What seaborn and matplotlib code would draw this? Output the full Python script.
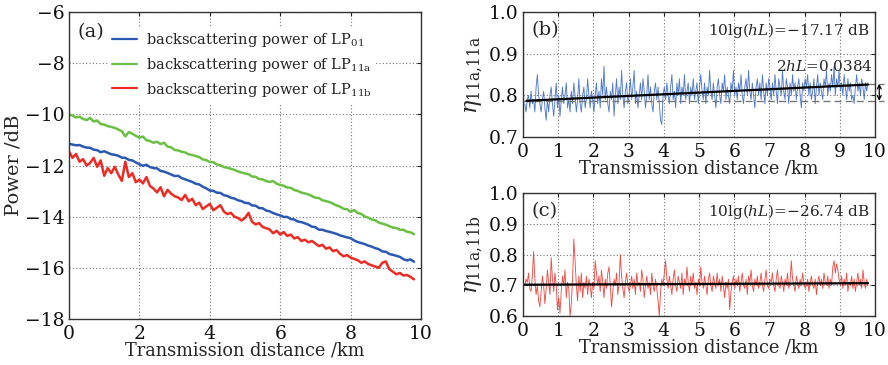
import numpy as np
import pandas as pd
import matplotlib
matplotlib.use("Agg")
import matplotlib.pyplot as plt
import seaborn as sns

# ---------------- data ----------------
# panel (a): backscattering power (dB) every 0.1 km from 0 to 9.8 km
power_lp01 = [
    -11.15, -11.18, -11.21, -11.20, -11.26, -11.30, -11.31, -11.38, -11.40, -11.48,
    -11.44, -11.50, -11.56, -11.58, -11.62, -11.69, -11.70, -11.78, -11.80, -11.88,
    -11.95, -12.01, -11.97, -12.06, -12.10, -12.11, -12.21, -12.24, -12.29, -12.35,
    -12.41, -12.40, -12.49, -12.54, -12.59, -12.64, -12.71, -12.74, -12.83, -12.89,
    -12.98, -12.99, -13.06, -13.07, -13.16, -13.19, -13.26, -13.29, -13.36, -13.39,
    -13.46, -13.47, -13.56, -13.57, -13.66, -13.67, -13.76, -13.79, -13.86, -13.91,
    -13.95, -14.01, -14.01, -14.09, -14.11, -14.19, -14.21, -14.26, -14.31, -14.39,
    -14.41, -14.51, -14.51, -14.56, -14.59, -14.63, -14.67, -14.73, -14.77, -14.81,
    -14.84, -14.93, -14.99, -15.03, -15.07, -15.13, -15.17, -15.23, -15.27, -15.36,
    -15.37, -15.46, -15.49, -15.53, -15.57, -15.66, -15.71, -15.67, -15.76]
power_lp11a = [
    -10.00, -10.05, -10.12, -10.09, -10.18, -10.22, -10.14, -10.28, -10.24, -10.38,
    -10.40, -10.46, -10.49, -10.53, -10.59, -10.66, -10.86, -10.69, -10.76, -10.84,
    -10.91, -10.87, -11.01, -11.04, -11.11, -11.07, -11.16, -11.11, -11.26, -11.29,
    -11.39, -11.41, -11.46, -11.49, -11.56, -11.59, -11.63, -11.67, -11.76, -11.79,
    -11.86, -11.87, -11.96, -11.99, -12.06, -12.09, -12.13, -12.17, -12.23, -12.27,
    -12.31, -12.34, -12.43, -12.44, -12.53, -12.54, -12.61, -12.64, -12.61, -12.71,
    -12.76, -12.79, -12.86, -12.87, -12.96, -12.99, -13.06, -13.09, -13.13, -13.19,
    -13.26, -13.27, -13.36, -13.39, -13.43, -13.49, -13.56, -13.61, -13.69, -13.71,
    -13.81, -13.74, -13.86, -13.89, -13.99, -14.04, -14.11, -14.14, -14.23, -14.27,
    -14.31, -14.37, -14.43, -14.44, -14.51, -14.51, -14.59, -14.61, -14.68]
power_lp11b = [
    -11.45, -11.70, -11.55, -11.85, -11.75, -12.00, -11.90, -11.70, -12.05, -11.80,
    -12.40, -12.10, -12.30, -12.05, -12.35, -12.60, -11.85, -12.45, -12.30, -12.65,
    -12.55, -12.70, -12.45, -12.80, -12.90, -13.05, -12.85, -13.20, -12.95, -13.10,
    -13.20, -13.25, -13.35, -13.15, -13.40, -13.30, -13.55, -13.45, -13.70, -13.60,
    -13.50, -13.75, -13.65, -13.55, -13.80, -13.90, -13.85, -14.00, -14.05, -14.15,
    -14.05, -13.85, -14.20, -14.30, -14.25, -14.40, -14.45, -14.50, -14.65, -14.55,
    -14.70, -14.60, -14.75, -14.70, -14.85, -14.80, -14.95, -14.90, -15.00, -14.95,
    -15.05, -15.15, -15.10, -15.25, -15.20, -15.35, -15.30, -15.45, -15.55, -15.50,
    -15.60, -15.65, -15.70, -15.80, -15.75, -15.85, -15.90, -15.95, -16.00, -15.80,
    -15.75, -16.05, -16.15, -16.25, -16.20, -16.30, -16.28, -16.35, -16.45]

# panel (b): eta_11a,11a samples from 0.05 to 9.8 km
eta_11a_11a = [
    0.78, 0.76, 0.79, 0.80, 0.77, 0.81, 0.78, 0.79, 0.76, 0.82, 0.85, 0.80, 0.78, 0.76,
    0.79, 0.81, 0.77, 0.74, 0.79, 0.76, 0.80, 0.82, 0.78, 0.75, 0.79, 0.83, 0.77, 0.80,
    0.75, 0.79, 0.82, 0.78, 0.80, 0.83, 0.77, 0.79, 0.76, 0.81, 0.78, 0.83, 0.80, 0.76,
    0.79, 0.84, 0.78, 0.76, 0.80, 0.82, 0.77, 0.79, 0.84, 0.80, 0.77, 0.81, 0.79, 0.76,
    0.80, 0.83, 0.78, 0.81, 0.77, 0.84, 0.80, 0.87, 0.79, 0.82, 0.78, 0.76, 0.81, 0.79,
    0.83, 0.75, 0.80, 0.84, 0.78, 0.82, 0.79, 0.86, 0.80, 0.77, 0.81, 0.83, 0.78, 0.80,
    0.84, 0.79, 0.82, 0.86, 0.78, 0.81, 0.77, 0.80, 0.83, 0.79, 0.84, 0.81, 0.77, 0.80,
    0.85, 0.79, 0.82, 0.78, 0.76, 0.81, 0.83, 0.79, 0.82, 0.78, 0.74, 0.73, 0.80, 0.82,
    0.79, 0.83, 0.80, 0.78, 0.82, 0.85, 0.79, 0.81, 0.77, 0.83, 0.80, 0.84, 0.78, 0.82,
    0.80, 0.85, 0.79, 0.81, 0.83, 0.78, 0.82, 0.80, 0.84, 0.79, 0.81, 0.83, 0.78, 0.82,
    0.85, 0.81, 0.79, 0.83, 0.78, 0.82, 0.80, 0.86, 0.81, 0.79, 0.83, 0.80, 0.77, 0.82,
    0.84, 0.80, 0.78, 0.83, 0.81, 0.85, 0.79, 0.82, 0.80, 0.78, 0.83, 0.81, 0.86, 0.80,
    0.82, 0.79, 0.83, 0.81, 0.85, 0.80, 0.78, 0.82, 0.84, 0.80, 0.86, 0.81, 0.79, 0.83,
    0.80, 0.77, 0.82, 0.84, 0.80, 0.83, 0.79, 0.85, 0.81, 0.78, 0.83, 0.80, 0.84, 0.82,
    0.79, 0.83, 0.80, 0.85, 0.81, 0.78, 0.84, 0.82, 0.80, 0.86, 0.81, 0.79, 0.84, 0.82,
    0.78, 0.83, 0.80, 0.85, 0.81, 0.83, 0.79, 0.82, 0.84, 0.80, 0.77, 0.83, 0.81, 0.84,
    0.82, 0.85, 0.80, 0.83, 0.79, 0.81, 0.84, 0.78, 0.82, 0.85, 0.80, 0.83, 0.81, 0.79,
    0.84, 0.82, 0.86, 0.80, 0.83, 0.81, 0.85, 0.82, 0.87, 0.80, 0.84, 0.82, 0.86, 0.81,
    0.83, 0.80, 0.85, 0.82, 0.79, 0.84, 0.81, 0.83, 0.79, 0.80, 0.78, 0.82, 0.85, 0.81,
    0.83, 0.80, 0.84, 0.82, 0.79, 0.83, 0.81, 0.83]
fit_b_x = [0.1, 9.8]
fit_b_y = [0.787, 0.826]
ref_b = 0.787           # dashed reference level
top_b = 0.828           # end of fitted line (arrow top)

# panel (c): eta_11a,11b samples from 0.05 to 9.8 km
eta_11a_11b = [
    0.70, 0.72, 0.71, 0.74, 0.69, 0.68, 0.73, 0.81, 0.72, 0.67, 0.70, 0.65, 0.63, 0.68,
    0.73, 0.70, 0.64, 0.69, 0.75, 0.71, 0.67, 0.79, 0.72, 0.68, 0.74, 0.70, 0.62, 0.66,
    0.61, 0.68, 0.73, 0.70, 0.75, 0.66, 0.71, 0.69, 0.60, 0.64, 0.72, 0.85, 0.78, 0.70,
    0.65, 0.73, 0.68, 0.74, 0.66, 0.71, 0.69, 0.73, 0.67, 0.72, 0.70, 0.66, 0.71, 0.69,
    0.78, 0.74, 0.70, 0.73, 0.68, 0.75, 0.71, 0.66, 0.72, 0.69, 0.74, 0.76, 0.70, 0.63,
    0.68, 0.72, 0.70, 0.74, 0.67, 0.71, 0.80, 0.73, 0.69, 0.66, 0.71, 0.74, 0.70, 0.68,
    0.70, 0.73, 0.69, 0.72, 0.67, 0.74, 0.70, 0.71, 0.68, 0.75, 0.72, 0.66, 0.70, 0.73,
    0.69, 0.71, 0.67, 0.74, 0.70, 0.68, 0.72, 0.69, 0.65, 0.60, 0.68, 0.72, 0.70, 0.74,
    0.78, 0.72, 0.69, 0.73, 0.70, 0.67, 0.72, 0.75, 0.70, 0.68, 0.73, 0.71, 0.69, 0.74,
    0.67, 0.72, 0.70, 0.76, 0.71, 0.68, 0.73, 0.70, 0.74, 0.69, 0.71, 0.67, 0.72, 0.70,
    0.76, 0.71, 0.69, 0.73, 0.70, 0.67, 0.72, 0.74, 0.70, 0.68, 0.73, 0.71, 0.69, 0.74,
    0.70, 0.72, 0.68, 0.73, 0.70, 0.66, 0.71, 0.69, 0.72, 0.62, 0.68, 0.71, 0.73, 0.69,
    0.72, 0.70, 0.73, 0.68, 0.71, 0.74, 0.70, 0.69, 0.72, 0.67, 0.73, 0.71, 0.75, 0.70,
    0.68, 0.72, 0.70, 0.73, 0.69, 0.71, 0.74, 0.70, 0.68, 0.72, 0.75, 0.70, 0.69, 0.72,
    0.71, 0.74, 0.70, 0.68, 0.72, 0.75, 0.70, 0.69, 0.73, 0.71, 0.68, 0.72, 0.70, 0.74,
    0.69, 0.71, 0.78, 0.72, 0.70, 0.68, 0.73, 0.71, 0.69, 0.72, 0.70, 0.74, 0.71, 0.69,
    0.70, 0.72, 0.68, 0.71, 0.73, 0.70, 0.69, 0.72, 0.67, 0.71, 0.73, 0.70, 0.72, 0.69,
    0.74, 0.71, 0.70, 0.73, 0.69, 0.72, 0.70, 0.76, 0.78, 0.74, 0.77, 0.75, 0.72, 0.70,
    0.73, 0.69, 0.72, 0.70, 0.74, 0.68, 0.71, 0.70, 0.73, 0.69, 0.72, 0.68, 0.71, 0.74,
    0.70, 0.72, 0.69, 0.75, 0.71, 0.69, 0.72, 0.70]
fit_c_x = [0.05, 9.8]
fit_c_y = [0.702, 0.707]

legend_labels = [r"backscattering power of LP$_{\mathregular{01}}$",
                 r"backscattering power of LP$_{\mathregular{11a}}$",
                 r"backscattering power of LP$_{\mathregular{11b}}$"]
text_b1 = r"10lg($hL$)=$-$17.17 dB"
text_b2 = r"2$hL$=0.0384"
text_c1 = r"10lg($hL$)=$-$26.74 dB"
ylabel_b = r"$\eta_{\mathregular{11a,\!11a}}$"
ylabel_c = r"$\eta_{\mathregular{11a,\!11b}}$"

# ---------------- style ----------------
sns.set_style("white")
plt.rcParams["font.family"] = ["DejaVu Serif"]
plt.rcParams["mathtext.fontset"] = "dejavuserif"
plt.rcParams["axes.unicode_minus"] = True

c_blue, c_green, c_red = "#2b58b2", "#6cbf45", "#ec2c24"

fig = plt.figure(figsize=(8.88, 3.65), dpi=100)
ax_a = fig.add_axes([0.0777, 0.126, 0.3964, 0.841])
ax_b = fig.add_axes([0.589, 0.6247, 0.3964, 0.342])
ax_c = fig.add_axes([0.589, 0.134, 0.3964, 0.337])

def style_axes(ax, size):
    for s in ax.spines.values():
        s.set_color("#333333")
        s.set_linewidth(1.0)
    ax.grid(True, linestyle=(0, (1, 2)), color="#777777", linewidth=0.8)
    ax.tick_params(direction="in", length=3, width=0.8, top=True, right=True,
                   labelsize=size, colors="#222222")
    ax.tick_params(axis="x", pad=4)
    ax.tick_params(axis="y", pad=3)
    for lab in ax.get_xticklabels() + ax.get_yticklabels():
        lab.set_color("#111111")

# ---- panel (a)
xa = np.round(np.arange(len(power_lp01)) * 0.1, 1)
df_a = pd.DataFrame({
    "x": np.concatenate([xa, xa, xa]),
    "y": power_lp01 + power_lp11a + power_lp11b,
    "mode": [legend_labels[0]] * len(xa) + [legend_labels[1]] * len(xa) + [legend_labels[2]] * len(xa),
})
sns.lineplot(data=df_a, x="x", y="y", hue="mode", ax=ax_a,
             palette=[c_blue, c_green, c_red], linewidth=1.8, legend=True)
ax_a.set_xlim(0, 10)
ax_a.set_ylim(-18, -6)
ax_a.set_xticks([0, 2, 4, 6, 8, 10])
ax_a.set_yticks([-18, -16, -14, -12, -10, -8, -6])
style_axes(ax_a, 13.5)
ax_a.set_xlabel("Transmission distance /km", fontsize=12.8, labelpad=-1)
ax_a.set_ylabel("Power /dB", fontsize=14, labelpad=2)
ax_a.text(0.025, 0.965, "(a)", transform=ax_a.transAxes, fontsize=14,
          ha="left", va="top")
leg = ax_a.legend(loc="upper left", bbox_to_anchor=(0.09, 0.975), frameon=True,
                  fontsize=10.5, handlelength=1.7, handletextpad=0.6,
                  labelspacing=0.45, borderpad=0.3, title=None)
leg.get_frame().set_facecolor("white")
leg.get_frame().set_edgecolor("none")
leg.get_frame().set_alpha(1.0)
for ln in leg.get_lines():
    ln.set_linewidth(1.6)

# ---- panel (b)
xb = np.linspace(0.05, 9.8, len(eta_11a_11a))
sns.lineplot(x=xb, y=eta_11a_11a, ax=ax_b, color="#3f6cc4", linewidth=0.65, alpha=0.9)
ax_b.plot([0, 10.25], [ref_b, ref_b], linestyle=(0, (5, 3)), color="#777777",
          linewidth=1.0, clip_on=False)
ax_b.plot([9.8, 10.25], [top_b, top_b], linestyle=(0, (5, 3)), color="#777777",
          linewidth=1.0, clip_on=False)
sns.lineplot(x=fit_b_x, y=fit_b_y, ax=ax_b, color="black", linewidth=1.6)
ax_b.annotate("", xy=(10.12, top_b), xytext=(10.12, ref_b),
              arrowprops=dict(arrowstyle="<->", color="black", lw=0.9,
                              shrinkA=0, shrinkB=0, mutation_scale=7),
              annotation_clip=False)
ax_b.set_xlim(0, 10)
ax_b.set_ylim(0.7, 1.0)
ax_b.set_xticks(range(0, 11))
ax_b.set_yticks([0.7, 0.8, 0.9, 1.0])
ax_b.set_yticklabels(["0.7", "0.8", "0.9", "1.0"])
style_axes(ax_b, 13.5)
ax_b.set_xlabel("Transmission distance /km", fontsize=12.8, labelpad=-1)
ax_b.set_ylabel(ylabel_b, fontsize=16, labelpad=3)
ax_b.text(0.025, 0.93, "(b)", transform=ax_b.transAxes, fontsize=14,
          ha="left", va="top")
ax_b.text(0.985, 0.93, text_b1, transform=ax_b.transAxes, fontsize=11,
          ha="right", va="top")
ax_b.text(9.95, 0.87, text_b2, fontsize=11, ha="right", va="center")

# ---- panel (c)
xc = np.linspace(0.05, 9.8, len(eta_11a_11b))
sns.lineplot(x=xc, y=eta_11a_11b, ax=ax_c, color="#ee3b34", linewidth=0.65, alpha=0.9)
sns.lineplot(x=fit_c_x, y=fit_c_y, ax=ax_c, color="black", linewidth=1.6)
ax_c.set_xlim(0, 10)
ax_c.set_ylim(0.6, 1.0)
ax_c.set_xticks(range(0, 11))
ax_c.set_yticks([0.6, 0.7, 0.8, 0.9, 1.0])
ax_c.set_yticklabels(["0.6", "0.7", "0.8", "0.9", "1.0"])
style_axes(ax_c, 13.5)
ax_c.set_xlabel("Transmission distance /km", fontsize=12.8, labelpad=-1)
ax_c.set_ylabel(ylabel_c, fontsize=16, labelpad=3)
ax_c.text(0.025, 0.93, "(c)", transform=ax_c.transAxes, fontsize=14,
          ha="left", va="top")
ax_c.text(0.985, 0.93, text_c1, transform=ax_c.transAxes, fontsize=11,
          ha="right", va="top")

fig.savefig("out.png", dpi=100)
